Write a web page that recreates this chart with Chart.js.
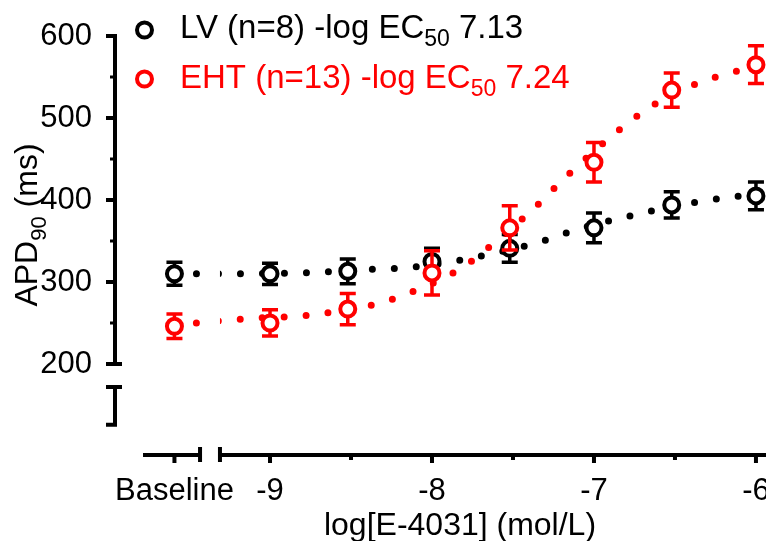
<!DOCTYPE html>
<html>
<head>
<meta charset="utf-8">
<script src="https://cdn.jsdelivr.net/npm/chart.js@4.4.0/dist/chart.umd.min.js"></script>
<style>
  html, body { margin: 0; padding: 0; background: #fff; }
  #wrap { width: 766px; height: 541px; }
</style>
</head>
<body>
<div id="wrap"><canvas id="apdChart" width="766" height="541"></canvas></div>
<script>
// doses as log[E-4031]; baseline is placed left of the axis break
const doseX = [-9.59, -9, -8.52, -8, -7.52, -7, -6.52, -6];
const lvMean = [310, 310, 313, 325, 341, 366, 394, 405];
const lvSem = [14, 13, 15, 16, 17, 18, 16, 17];
const ehtMean = [246, 250, 267, 311, 366, 446, 534, 565];
const ehtSem = [15, 16, 19, 27, 27, 24, 21, 23];

// fitted curves
const lvFitX = [-9.59, -9.46, -8.81, -8.32, -8.18, -7.9, -7.62, -7.35, -7.09, -6.81, -6.68, -6.41, -6.13, -5.94];
const lvFitY = [310, 310, 311, 316, 317, 324, 335, 348, 365, 379, 385, 396, 404, 407];
const ehtFitX = [-9.59, -9.45, -9.16, -8.74, -8.33, -8.06, -7.81, -7.59, -7.38, -7.18, -6.86, -6.64, -6.39, -6.12, -5.94];
const ehtFitY = [248, 250, 255, 260, 274, 293, 318, 352, 388, 427, 483, 515, 540, 557, 564];

const xTickValues = [-9.59, -9, -8.5, -8, -7.5, -7, -6.5, -6];
const xTickLabels = ["Baseline", "-9", "", "-8", "", "-7", "", "-6"];
const yTickValues = [200, 300, 400, 500, 600];
const yMinorValues = [250, 350, 450, 550];

const lvLegend = ["LV (n=8) -log EC", "50", " 7.13"];
const ehtLegend = ["EHT (n=13) -log EC", "50", " 7.24"];
const yTitle = ["APD", "90", " (ms)"];
const xTitle = "log[E-4031] (mol/L)";

const RED = "#ff0000";
const BLACK = "#000000";
const FONT = "Liberation Sans, Arial, sans-serif";

const toPoints = (xs, ys) => xs.map((x, i) => ({ x: x, y: ys[i] }));

function drawRich(ctx, parts, x, y, size, subSize, subDrop, color, centered) {
  ctx.fillStyle = color;
  ctx.textBaseline = "alphabetic";
  ctx.textAlign = "left";
  const fonts = [size + "px " + FONT, subSize + "px " + FONT, size + "px " + FONT];
  let total = 0;
  parts.forEach((p, i) => {
    ctx.font = fonts[i];
    total += ctx.measureText(p).width;
  });
  let cx = centered ? x - total / 2 : x;
  parts.forEach((p, i) => {
    ctx.font = fonts[i];
    ctx.fillText(p, cx, i === 1 ? y + subDrop : y);
    cx += ctx.measureText(p).width;
  });
}

const decor = {
  id: "decor",
  afterLayout(chart) {
    // let the x axis run to the canvas edge, the "-6" label gets cut like the original
    const xs = chart.scales.x;
    xs.right = chart.width;
    xs.width = xs.right - xs.left;
    xs.configure();
    chart.chartArea.right = chart.width;
    chart.chartArea.width = chart.chartArea.right - chart.chartArea.left;
  },
  beforeDatasetDraw(chart, args) {
    const ds = chart.data.datasets[args.index];
    if (!ds.sem) return;
    const ctx = chart.ctx;
    const xs = chart.scales.x;
    const ys = chart.scales.y;
    ctx.save();
    ctx.strokeStyle = ds.pointBorderColor;
    ctx.lineWidth = 3.5;
    ds.data.forEach((pt, i) => {
      const px = xs.getPixelForValue(pt.x);
      const top = ys.getPixelForValue(pt.y + ds.sem[i]);
      const bot = ys.getPixelForValue(pt.y - ds.sem[i]);
      ctx.beginPath();
      ctx.moveTo(px, top);
      ctx.lineTo(px, bot);
      ctx.moveTo(px - 8, top);
      ctx.lineTo(px + 8, top);
      ctx.moveTo(px - 8, bot);
      ctx.lineTo(px + 8, bot);
      ctx.stroke();
    });
    ctx.restore();
  },
  afterDatasetsDraw(chart) {
    const ctx = chart.ctx;
    const xs = chart.scales.x;
    const ys = chart.scales.y;
    const area = chart.chartArea;
    const ax = area.left;
    const ay = area.bottom;
    const brkL = xs.getPixelForValue(-9.432);
    const brkR = xs.getPixelForValue(-9.309);
    ctx.save();

    // blank the curves inside the x-axis break
    ctx.fillStyle = "#fff";
    ctx.fillRect(brkL, area.top, brkR - brkL, ay - 3 - area.top);

    ctx.strokeStyle = BLACK;
    ctx.lineWidth = 4;
    ctx.lineCap = "butt";
    ctx.beginPath();
    // y axis, upper piece
    const y600 = ys.getPixelForValue(600);
    const y200 = ys.getPixelForValue(200);
    ctx.moveTo(ax, y600 - 2);
    ctx.lineTo(ax, y200 + 2);
    yTickValues.forEach(v => {
      const py = ys.getPixelForValue(v);
      ctx.moveTo(ax + 2, py);
      ctx.lineTo(ax - 9, py);
    });
    ctx.moveTo(ax - 9, y200);
    ctx.lineTo(ax + 7, y200);
    // y axis, lower piece below the break
    const yb1 = ys.getPixelForValue(172);
    const yb2 = ys.getPixelForValue(126);
    ctx.moveTo(ax, yb1);
    ctx.lineTo(ax, yb2);
    ctx.moveTo(ax - 9, yb1);
    ctx.lineTo(ax + 7, yb1);
    ctx.moveTo(ax - 9, yb2);
    ctx.lineTo(ax + 2, yb2);
    // x axis, two pieces
    ctx.moveTo(xs.getPixelForValue(-9.784), ay);
    ctx.lineTo(brkL, ay);
    ctx.moveTo(brkR, ay);
    ctx.lineTo(chart.width, ay);
    ctx.moveTo(brkL, ay - 8);
    ctx.lineTo(brkL, ay + 7);
    ctx.moveTo(brkR, ay - 8);
    ctx.lineTo(brkR, ay + 7);
    xTickValues.forEach((v, i) => {
      const px = xs.getPixelForValue(v);
      ctx.moveTo(px, ay);
      ctx.lineTo(px, ay + (xTickLabels[i] ? 8 : 5));
    });
    ctx.stroke();

    ctx.lineWidth = 3;
    ctx.beginPath();
    yMinorValues.forEach(v => {
      const py = ys.getPixelForValue(v);
      ctx.moveTo(ax, py);
      ctx.lineTo(ax - 5, py);
    });
    ctx.stroke();

    // legend
    [[lvLegend, BLACK, 30, 38], [ehtLegend, RED, 79, 88]].forEach(([parts, color, my, by]) => {
      ctx.beginPath();
      ctx.strokeStyle = color;
      ctx.lineWidth = 4;
      ctx.arc(144.5, my, 7.5, 0, Math.PI * 2);
      ctx.stroke();
      drawRich(ctx, parts, 180, by, 33, 23, 8, color, false);
    });

    // axis titles
    ctx.fillStyle = BLACK;
    ctx.font = "32px " + FONT;
    ctx.textAlign = "center";
    ctx.textBaseline = "alphabetic";
    ctx.fillText(xTitle, 460, 535);

    ctx.translate(37, 225);
    ctx.rotate(-Math.PI / 2);
    drawRich(ctx, yTitle, 0, 0, 32, 22, 9, BLACK, true);
    ctx.restore();
  }
};

const noPad = scale => {
  scale.paddingLeft = 0;
  scale.paddingRight = 0;
  scale.paddingTop = 0;
  scale.paddingBottom = 0;
};

new Chart(document.getElementById("apdChart"), {
  type: "scatter",
  data: {
    datasets: [
      {
        label: "EHT",
        data: toPoints(doseX, ehtMean),
        sem: ehtSem,
        pointRadius: 7.5,
        pointBorderWidth: 4,
        pointBorderColor: RED,
        pointBackgroundColor: "#fff",
        showLine: false,
        order: 1,
      },
      {
        label: "LV",
        data: toPoints(doseX, lvMean),
        sem: lvSem,
        pointRadius: 7.5,
        pointBorderWidth: 4,
        pointBorderColor: BLACK,
        pointBackgroundColor: "#fff",
        showLine: false,
        order: 2,
      },
      {
        label: "EHT fit",
        type: "line",
        data: toPoints(ehtFitX, ehtFitY),
        borderColor: RED,
        borderWidth: 7,
        borderDash: [0, 22],
        borderCapStyle: "round",
        pointRadius: 0,
        cubicInterpolationMode: "monotone",
        fill: false,
        order: 3,
      },
      {
        label: "LV fit",
        type: "line",
        data: toPoints(lvFitX, lvFitY),
        borderColor: BLACK,
        borderWidth: 7,
        borderDash: [0, 22],
        borderCapStyle: "round",
        pointRadius: 0,
        cubicInterpolationMode: "monotone",
        fill: false,
        order: 4,
      },
    ],
  },
  options: {
    responsive: false,
    animation: false,
    devicePixelRatio: 1,
    layout: { padding: { top: 36, left: 0, right: 0, bottom: 0 } },
    plugins: { legend: { display: false }, tooltip: { enabled: false } },
    scales: {
      x: {
        type: "linear",
        min: -9.957,
        max: -5.938,
        grid: { display: false },
        border: { display: false },
        afterBuildTicks: scale => {
          scale.ticks = xTickValues.map(v => ({ value: v }));
        },
        afterFit: scale => {
          scale.height = 86;
          noPad(scale);
        },
        ticks: {
          autoSkip: false,
          maxRotation: 0,
          padding: 10,
          color: BLACK,
          font: { family: FONT, size: 31 },
          callback: (v, i) => xTickLabels[i],
        },
      },
      y: {
        min: 89,
        max: 600,
        grid: { display: false },
        border: { display: false },
        afterBuildTicks: scale => {
          scale.ticks = yTickValues.map(v => ({ value: v }));
        },
        afterFit: scale => {
          scale.width = 115;
          noPad(scale);
        },
        ticks: {
          padding: 15,
          color: BLACK,
          font: { family: FONT, size: 31 },
        },
      },
    },
  },
  plugins: [decor],
});
</script>
</body>
</html>
